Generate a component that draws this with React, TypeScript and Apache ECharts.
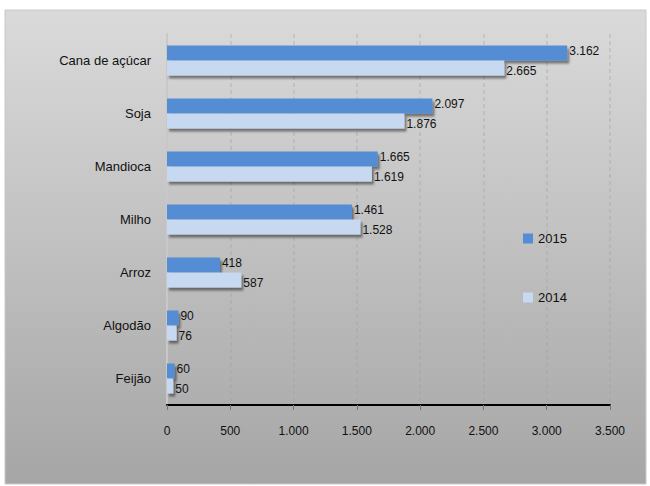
import React, { useEffect, useRef } from "react";
import * as echarts from "echarts";

const categories = ["Cana de açúcar", "Soja", "Mandioca", "Milho", "Arroz", "Algodão", "Feijão"];
const values2015 = [3162, 2097, 1665, 1461, 418, 90, 60];
const values2014 = [2665, 1876, 1619, 1528, 587, 76, 50];
const seriesNames = ["2015", "2014"];

const fmt = (v: number) => {
  const s = String(Math.round(v));
  return s.replace(/\B(?=(\d{3})+(?!\d))/g, ".");
};

export default function App() {
  const ref = useRef<HTMLDivElement>(null);
  useEffect(() => {
    if (!ref.current) return;
    const chart = echarts.init(ref.current, null, { renderer: "svg" });
    const shadow = {
      shadowColor: "rgba(0,0,0,0.45)",
      shadowBlur: 2,
      shadowOffsetX: 2,
      shadowOffsetY: 3,
    };
    const label = {
      show: true,
      position: "right" as const,
      distance: 2,
      color: "#111",
      fontSize: 12,
      fontFamily: "Liberation Sans, Arial, sans-serif",
      formatter: (p: any) => fmt(p.value),
    };
    chart.setOption({
      animation: false,
      textStyle: { fontFamily: "Liberation Sans, Arial, sans-serif" },
      graphic: [
        {
          type: "rect",
          z: -10,
          silent: true,
          shape: { x: 5, y: 10, width: 641, height: 474 },
          style: {
            fill: new echarts.graphic.LinearGradient(0, 0, 0, 1, [
              { offset: 0, color: "#dadada" },
              { offset: 1, color: "#a6a6a6" },
            ]),
            stroke: "#c8c8c8",
            lineWidth: 1,
          },
        },
      ],
      grid: { left: 167, right: 40, top: 34, bottom: 81 },
      legend: {
        orient: "vertical",
        left: 518,
        top: 227,
        itemGap: 46,
        itemWidth: 10,
        itemHeight: 10,
        icon: "rect",
        data: seriesNames,
        textStyle: { fontSize: 13, color: "#111" },
      },
      xAxis: {
        type: "value",
        min: 0,
        max: 3500,
        interval: 500,
        axisLine: { show: true, lineStyle: { color: "#000", width: 2 } },
        axisTick: { show: true, length: 5, lineStyle: { color: "#777" } },
        axisLabel: {
          color: "#111",
          fontSize: 12,
          margin: 20,
          formatter: (v: number) => fmt(v),
        },
        splitLine: {
          show: true,
          lineStyle: { color: "rgba(160,160,160,0.3)", type: [4, 3], width: 2 },
        },
      },
      yAxis: {
        type: "category",
        data: categories,
        inverse: true,
        axisLine: { show: true, lineStyle: { color: "#c8c8c8", width: 2 } },
        axisTick: { show: false },
        axisLabel: { color: "#111", fontSize: 13, margin: 16 },
      },
      series: [
        {
          name: seriesNames[0],
          type: "bar",
          data: values2015,
          barWidth: 15,
          barGap: "0%",
          itemStyle: { color: "#548dd4", ...shadow },
          label: { ...label, offset: [0, -2] },
        },
        {
          name: seriesNames[1],
          type: "bar",
          data: values2014,
          barWidth: 15,
          barGap: "0%",
          itemStyle: { color: "#c6d9f1", ...shadow },
          label: { ...label, offset: [0, 3] },
        },
      ],
    });
    return () => chart.dispose();
  }, []);
  return (
    <div
      ref={ref}
      style={{ position: "fixed", left: 0, top: 0, width: 650, height: 486, background: "#fff" }}
    />
  );
}
